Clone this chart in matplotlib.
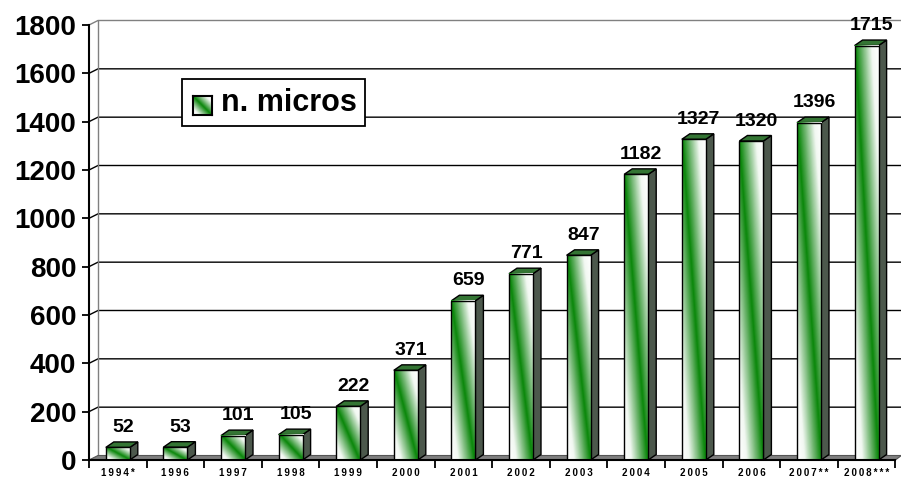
import numpy as np
import matplotlib
matplotlib.use('Agg')
import matplotlib.pyplot as plt
from matplotlib.colors import LinearSegmentedColormap
from matplotlib.patches import Rectangle, Polygon

plt.rcParams['font.family'] = ['Liberation Sans', 'DejaVu Sans']

# dati: numero di micro per anno
years = ['1994*', '1996', '1997', '1998', '1999', '2000', '2001', '2002',
         '2003', '2004', '2005', '2006', '2007**', '2008***']
micros = [52, 53, 101, 105, 222, 371, 659, 771, 847, 1182, 1327, 1320, 1396, 1715]
yticks = [0, 200, 400, 600, 800, 1000, 1200, 1400, 1600, 1800]
series_name = 'n. micros'

W, H = 901, 482
CAT_PX = 57.6
n = len(years)

fig = plt.figure(figsize=(W / 100, H / 100), dpi=100)
fig.patch.set_facecolor('white')
ax = fig.add_axes([89 / W, 22 / H, n * CAT_PX / W, 435 / H])

ymax = yticks[-1]
px_x = n / (n * CAT_PX)      # unita' dati per pixel (orizzontale)
px_y = ymax / 435.0          # unita' dati per pixel (verticale)

wall_dx, wall_dy = 9 * px_x, 4.5 * px_y
bar_dx, bar_dy = 8 * px_x, 5.5 * px_y
half_w = 12 * px_x
x_end = n + 6 * px_x

# colormap del gradiente: verde sulla diagonale, bianco ai bordi
grad_cmap = LinearSegmentedColormap.from_list(
    'verde', [(0.0, '#0a870a'), (0.3, '#6fb56f'), (0.7, '#f2f8f2'), (1.0, '#ffffff')])

def gradient(nx=30, ny=200):
    u = np.linspace(0, 1, nx)[None, :]
    v = np.linspace(0, 1, ny)[:, None]
    return np.abs(u + v - 1)

# parete di fondo e griglia
for t in yticks[1:]:
    col = '#808080' if t == ymax else 'black'
    ax.plot([0, wall_dx, x_end], [t, t + wall_dy, t + wall_dy],
            color=col, lw=1, clip_on=False, zorder=1)
ax.plot([wall_dx, wall_dx], [wall_dy, ymax + wall_dy], color='#808080',
        lw=1, clip_on=False, zorder=1)

# pavimento
floor = Polygon([(0, 0), (wall_dx, wall_dy), (x_end, wall_dy), (n, 0)],
                closed=True, facecolor='#7f7f7f', edgecolor='#555555',
                lw=0.8, clip_on=False, zorder=2)
ax.add_patch(floor)

# barre 3D
g = gradient()
for k, v in enumerate(micros):
    c = k + 0.5
    x0, x1 = c - half_w, c + half_w
    # faccia laterale
    side = Polygon([(x1, 0), (x1 + bar_dx, bar_dy), (x1 + bar_dx, v + bar_dy), (x1, v)],
                   closed=True, facecolor='#4c584c', edgecolor='black', lw=1, zorder=3)
    ax.add_patch(side)
    # faccia superiore
    top = Polygon([(x0, v), (x1, v), (x1 + bar_dx, v + bar_dy), (x0 + bar_dx, v + bar_dy)],
                  closed=True, facecolor='#347534', edgecolor='black', lw=1, zorder=3)
    ax.add_patch(top)
    # faccia frontale con gradiente
    ax.imshow(g, extent=[x0, x1, 0, v], origin='lower', aspect='auto',
              cmap=grad_cmap, vmin=0, vmax=1, zorder=4, interpolation='bilinear')
    ax.add_patch(Rectangle((x0, 0), x1 - x0, v, facecolor='none',
                           edgecolor='black', lw=1, zorder=5))
    ax.annotate(str(v), (c, v), xytext=(5, 20), textcoords='offset pixels',
                ha='center', va='center', fontsize=14, fontweight='bold', zorder=6)

ax.set_xlim(0, n)
ax.set_ylim(0, ymax)

for s in ['top', 'right']:
    ax.spines[s].set_visible(False)
for s in ['left', 'bottom']:
    ax.spines[s].set_linewidth(1.5)
    ax.spines[s].set_zorder(6)

ax.set_yticks(yticks)
ax.set_yticklabels([str(t) for t in yticks], fontsize=20, fontweight='bold')
ax.tick_params(axis='y', direction='out', length=5, width=1.3, pad=4)

ax.set_xticks(np.arange(n) + 0.5)
ax.set_xticklabels(['\u2009'.join(y) for y in years], fontsize=7, fontweight='bold')
ax.set_xticks(np.arange(n + 1), minor=True)
ax.tick_params(axis='x', which='major', length=0, pad=6)
ax.tick_params(axis='x', which='minor', direction='out', length=6, width=1.3)

# legenda
def fig_box(left, top, right, bottom):
    return (left / W, 1 - bottom / H, (right - left) / W, (bottom - top) / H)

bx = fig_box(182, 79, 365, 126)
fig.add_artist(Rectangle(bx[:2], bx[2], bx[3], transform=fig.transFigure,
                         facecolor='white', edgecolor='black', lw=1.3, zorder=5))
sw = fig.add_axes(fig_box(193, 96, 212, 115))
sw.set_zorder(6)
sw.imshow(gradient(20, 20), origin='lower', aspect='auto', cmap=grad_cmap,
          vmin=0, vmax=1, interpolation='bilinear')
sw.set_xticks([])
sw.set_yticks([])
for s in sw.spines.values():
    s.set_linewidth(1.5)
fig.text(221 / W, 1 - 103 / H, series_name, fontsize=22, fontweight='bold',
         ha='left', va='center', zorder=7)

fig.savefig('out.png', dpi=100)
